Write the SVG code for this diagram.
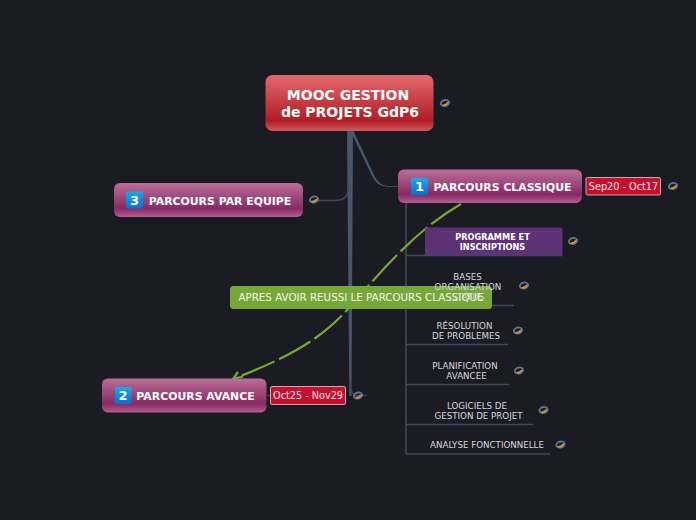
<svg xmlns="http://www.w3.org/2000/svg" xmlns:xlink="http://www.w3.org/1999/xlink" width="696" height="520" viewBox="0 0 696 520">
<style>
text{font-family:"DejaVu Sans",sans-serif;text-anchor:middle}
.b{font-weight:700;fill:#fff}
.t{font-size:8.7px;fill:#d8d8dc}
.d{font-size:9.700px;fill:#f4e4e6}
.date{fill:#c8102e;stroke:#c9a8ae;stroke-width:1}
.line{fill:none;stroke:#3d4a5c;stroke-width:1.3}
.num{font-size:13px;font-weight:700;fill:#fff}
</style>
<defs>
<linearGradient id="red" x1="0" y1="0" x2="0" y2="1"><stop offset="0" stop-color="#e4696e"/><stop offset=".82" stop-color="#b01c24"/><stop offset="1" stop-color="#d25a60"/></linearGradient>
<linearGradient id="pur" x1="0" y1="0" x2="0" y2="1"><stop offset="0" stop-color="#bb6f98"/><stop offset=".75" stop-color="#872a63"/><stop offset="1" stop-color="#b45f90"/></linearGradient>
<linearGradient id="blu" x1="0" y1="0" x2="0" y2="1"><stop offset="0" stop-color="#19a9ea"/><stop offset="1" stop-color="#0a6fd0"/></linearGradient>
<g id="lnk"><ellipse cx="0" cy="0" rx="4.200" ry="2.900" fill="none" stroke="#5c7f9c" stroke-width="1.800" transform="rotate(-15)"/><path d="M-2.200 2.300Q1.400 2.400 3-.6" fill="none" stroke="#f0920f" stroke-width="1.600"/></g>
</defs>
<rect width="696" height="520" fill="#1b1b23"/>
<g id="connectors">
<path d="M347 130H353L351.500 396H349.300Z" fill="#46566e"/>
<path d="M350 130L353 130L374 175Q379 186 388 186H399V186.800H388Q377 186.800 372 176Z" fill="#46566e"/>
<path class="line" d="M309 200.500H336Q347 200.500 348 190V178"/>
<path class="line" d="M349.500 380Q350 395.500 358 395.500H366"/>
<path class="line" d="M267 395.500H271"/>
<path d="M406 203V454" fill="none" stroke="#3d4a5c" stroke-width="1.600"/>
<path class="line" d="M406 255.500H563M406 305.500H514M406 344.500H508M406 384.500H509M406 424.500H533M406 454H550"/>
<path d="M461 204C440 216 420 232 400 252S372 282 347 310S290 357 233 379" fill="none" stroke="#76a838" stroke-width="2.200" stroke-dasharray="36 5"/>
<path d="M238 372L233 379L243 376.500" fill="none" stroke="#76a838" stroke-width="2.200"/>
</g>
<g id="node-root"><rect x="265.500" y="75" width="168" height="56" rx="7" fill="url(#red)"/><text class="b" font-size="14" x="348" y="100">MOOC GESTION</text><text class="b" font-size="14" x="350" y="117">de PROJETS GdP6</text><use xlink:href="#lnk" x="445" y="103"/></g>
<g id="node-1"><rect x="398" y="169.500" width="184" height="33.500" rx="6" fill="url(#pur)"/><rect x="411" y="178" width="17" height="17" rx="2" fill="url(#blu)"/><text class="num" x="419.500" y="191">1</text><text class="b" font-size="10.900" x="502.500" y="191">PARCOURS CLASSIQUE</text><rect class="date" x="586" y="177.500" width="74.500" height="17.500" rx="1.500"/><text class="d" x="623.500" y="189.500">Sep20 - Oct17</text><use xlink:href="#lnk" x="673" y="186"/></g>
<g id="node-2"><rect x="102" y="378.500" width="164.500" height="34" rx="6" fill="url(#pur)"/><rect x="115" y="387" width="16.500" height="17" rx="2" fill="url(#blu)"/><text class="num" x="123" y="400">2</text><text class="b" font-size="10.900" x="195.500" y="400">PARCOURS AVANCE</text><rect class="date" x="270.500" y="386.500" width="75" height="18" rx="1.500"/><text class="d" x="308" y="399">Oct25 - Nov29</text><use xlink:href="#lnk" x="358" y="395.500"/></g>
<g id="node-3"><rect x="114" y="183" width="189" height="34" rx="6" fill="url(#pur)"/><rect x="126" y="191.500" width="17" height="17" rx="2" fill="url(#blu)"/><text class="num" x="134.500" y="204.500">3</text><text class="b" font-size="10.900" x="220" y="205">PARCOURS PAR EQUIPE</text><use xlink:href="#lnk" x="314" y="199.500"/></g>
<g id="node-prog"><rect x="425" y="227.500" width="137.500" height="28" rx="2" fill="#5d3277"/><text class="b" font-size="8.200" x="492.500" y="240">PROGRAMME ET</text><text class="b" font-size="8.200" x="492.500" y="250">INSCRIPTIONS</text><use xlink:href="#lnk" x="573" y="241"/></g>
<g id="node-note"><rect x="230" y="286" width="262" height="23" rx="3.500" fill="#76a838"/><text x="361" y="301" font-size="10.300" fill="#f2f6ea">APRES AVOIR REUSSI LE PARCOURS CLASSIQUE</text></g>
<g id="node-bases"><text class="t" x="467.500" y="280">BASES</text><text class="t" x="468" y="289.500">ORGANISATION</text><text class="t" x="468" y="299.500">STATUS</text><use xlink:href="#lnk" x="524" y="285.500"/></g>
<g id="node-res"><text class="t" x="464.500" y="329">RÉSOLUTION</text><text class="t" x="466" y="339">DE PROBLEMES</text><use xlink:href="#lnk" x="518" y="330.500"/></g>
<g id="node-plan"><text class="t" x="465" y="369">PLANIFICATION</text><text class="t" x="466.500" y="379">AVANCEE</text><use xlink:href="#lnk" x="519" y="370.500"/></g>
<g id="node-log"><text class="t" x="477" y="409">LOGICIELS DE</text><text class="t" x="478.500" y="419">GESTION DE PROJET</text><use xlink:href="#lnk" x="543.500" y="410"/></g>
<g id="node-ana"><text class="t" x="487" y="448">ANALYSE FONCTIONNELLE</text><use xlink:href="#lnk" x="560.500" y="444.500"/></g>
</svg>
